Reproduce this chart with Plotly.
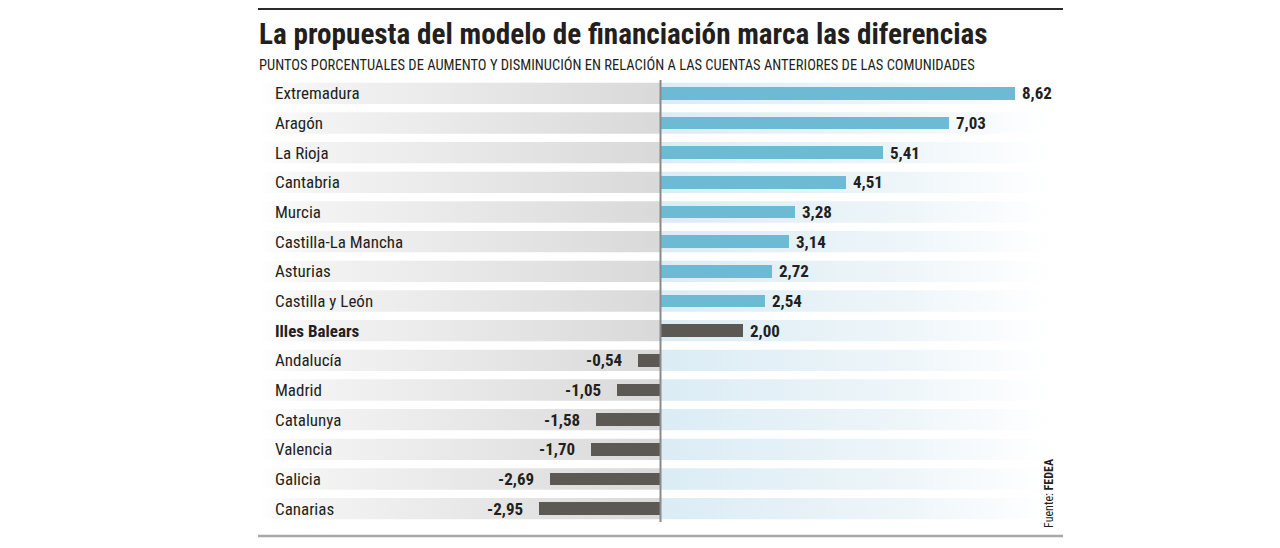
import plotly.graph_objects as go

categories = ["Extremadura", "Aragón", "La Rioja", "Cantabria", "Murcia",
              "Castilla-La Mancha", "Asturias", "Castilla y León", "Illes Balears",
              "Andalucía", "Madrid", "Catalunya", "Valencia", "Galicia", "Canarias"]
values = [8.62, 7.03, 5.41, 4.51, 3.28, 3.14, 2.72, 2.54, 2.00,
          -0.54, -1.05, -1.58, -1.70, -2.69, -2.95]
value_labels = ["8,62", "7,03", "5,41", "4,51", "3,28", "3,14", "2,72", "2,54", "2,00",
                "-0,54", "-1,05", "-1,58", "-1,70", "-2,69", "-2,95"]
highlight = "Illes Balears"

title = "La propuesta del modelo de financiación marca las diferencias"
subtitle = "PUNTOS PORCENTUALES DE AUMENTO Y DISMINUCIÓN EN RELACIÓN A LAS CUENTAS ANTERIORES DE LAS COMUNIDADES"
source = "Fuente: <b>FEDEA</b>"

W, H = 1280, 548
L, R, T, B = 258, 1063, 80, 522
XR = [-9.80, 9.80]
YR = [14.45, -0.45]

def py(p):
    return (B - p) / (B - T)

def px(p):
    return (p - L) / (R - L)

BLUE = "#6cbad3"
GRAY = "#5c5854"
TXT = "#231f20"
CFONT = "Roboto Condensed, Roboto, sans-serif"

ys = list(range(len(categories)))
fig = go.Figure()

# background bands (main axes, drawn underneath)
band = 0.36
lx, ly, rx, ry = [], [], [], []
for y in ys:
    lx += [XR[0], 0, 0, XR[0], XR[0], None]
    ly += [y - band, y - band, y + band, y + band, y - band, None]
    rx += [0, 9.5, 9.5, 0, 0, None]
    ry += [y - band, y - band, y + band, y + band, y - band, None]
fig.add_trace(go.Scatter(x=lx, y=ly, mode="lines", line=dict(width=0), fill="toself",
                         fillgradient=dict(type="horizontal",
                                           colorscale=[[0, "#ffffff"], [0.15, "#f3f3f3"], [1, "#d9d9d9"]]),
                         hoverinfo="skip", showlegend=False))
fig.add_trace(go.Scatter(x=rx, y=ry, mode="lines", line=dict(width=0), fill="toself",
                         fillgradient=dict(type="horizontal",
                                           colorscale=[[0, "#dbecf5"], [0.6, "#edf5f9"], [1, "#ffffff"]]),
                         hoverinfo="skip", showlegend=False))

colors = [GRAY if (v < 0 or c == highlight) else BLUE for c, v in zip(categories, values)]
fig.add_trace(go.Bar(x=values, y=ys, orientation="h", marker=dict(color=colors, line=dict(width=0)),
                     width=0.43, hoverinfo="skip", showlegend=False, xaxis="x2", yaxis="y2"))

annotations = []
for c, v, lab, y in zip(categories, values, value_labels, ys):
    annotations.append(dict(x=v, y=y, xref="x2", yref="y2", text="<b>" + lab + "</b>",
                            showarrow=False, xanchor="left" if v >= 0 else "right",
                            xshift=5 if v >= 0 else -14,
                            font=dict(family=CFONT, size=17, color=TXT)))
    annotations.append(dict(x=px(273), y=y, xref="paper", yref="y",
                            text=("<b>" + c + "</b>") if c == highlight else c,
                            showarrow=False, xanchor="left",
                            font=dict(family=CFONT, size=17, color=TXT)))

annotations.append(dict(x=px(257), y=py(34), xref="paper", yref="paper", text="<b>" + title + "</b>",
                        showarrow=False, xanchor="left", yanchor="middle",
                        font=dict(family=CFONT, size=29.2, color=TXT)))
annotations.append(dict(x=px(257), y=py(65), xref="paper", yref="paper", text=subtitle,
                        showarrow=False, xanchor="left", yanchor="middle",
                        font=dict(family=CFONT, size=14.5, color=TXT)))
annotations.append(dict(x=px(1049), y=py(530), xref="paper", yref="paper", text=source,
                        showarrow=False, xanchor="center", yanchor="bottom", textangle=-90,
                        font=dict(family=CFONT, size=12, color=TXT)))

shapes = [
    dict(type="line", xref="paper", yref="paper", x0=0, x1=1, y0=py(9), y1=py(9),
         line=dict(color="#2b2b2b", width=2)),
    dict(type="line", xref="paper", yref="paper", x0=0, x1=1, y0=py(536), y1=py(536),
         line=dict(color="#a8a8a8", width=2.5)),
    dict(type="line", xref="x", yref="paper", x0=0, x1=0, y0=0, y1=1,
         line=dict(color="#8a8a8a", width=2)),
]

fig.update_layout(
    width=W, height=H, margin=dict(l=L, r=W - R, t=T, b=H - B),
    paper_bgcolor="white", plot_bgcolor="rgba(0,0,0,0)",
    xaxis=dict(range=XR, visible=False, fixedrange=True),
    yaxis=dict(range=YR, visible=False, fixedrange=True),
    xaxis2=dict(range=XR, visible=False, fixedrange=True, overlaying="x", anchor="y2"),
    yaxis2=dict(range=YR, visible=False, fixedrange=True, overlaying="y", anchor="x2"),
    annotations=annotations, shapes=shapes, bargap=0,
)

fig.write_html("out.html")
